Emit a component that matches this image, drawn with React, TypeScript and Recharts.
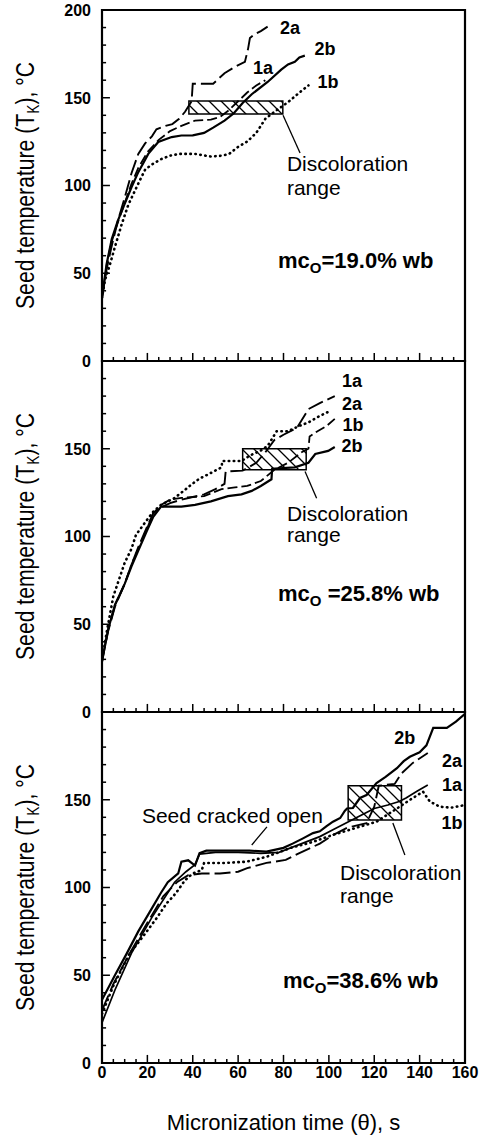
import React from "react";
import { LineChart, Line, XAxis, YAxis, ReferenceArea, ReferenceLine, ReferenceDot } from "recharts";

const FONT = '"Liberation Sans", Arial, Helvetica, sans-serif';

type Pt = [number, number];

const xTicks = [0, 5, 10, 15, 20, 25, 30, 35, 40, 45, 50, 55, 60, 65, 70, 75, 80, 85, 90, 95, 100, 105, 110, 115, 120, 125, 130, 135, 140, 145, 150, 155, 160];
const yTicks = [0, 10, 20, 30, 40, 50, 60, 70, 80, 90, 100, 110, 120, 130, 140, 150, 160, 170, 180, 190, 200];

// panel 1, mco = 19.0% wb  (time s, temperature C)
const p1_2a: Pt[] = [[0,36],[2,52],[4,64],[7,80],[10,93],[13,107],[16,118],[19,124],[22,128],[24,132],[28,134],[31,135],[34,138],[36.6,142],[39.5,148],[40,158],[49,158],[54,164],[58.6,167.6],[63,170.5],[64.4,178],[65.2,184],[67,186],[70,188],[73,190.5]];
const p1_2b: Pt[] = [[0,36],[2,55],[4.3,69.5],[7,80],[10,89.5],[13,99],[16,107.6],[20.4,118],[24.8,124.8],[30.7,127.6],[35,128.5],[40,128.6],[45,130],[49,133],[54,137],[58,141],[62,147],[66,152],[73,159],[79,166],[82,169],[85,170.5],[87,173],[89.4,174]];
const p1_1a: Pt[] = [[0,36],[2,54],[4,67],[7,79],[10,90],[13,101],[16,110],[20,119],[25,126],[30,131],[35,134],[41,137],[48,137.5],[52,139],[56,143],[60,148],[64,153],[68,157],[72,160]];
const p1_1b: Pt[] = [[0,36],[1.3,46],[3.5,55],[5.7,65],[8.7,78],[11.6,89],[14.5,97],[16.7,103],[19,109],[22,112],[26,115],[30,117],[34,118],[41,118],[48,116.5],[53,117],[56,118],[60,122],[64,125],[68,130],[72,138],[76,142],[82,147.5],[88,154],[91,157]];

// panel 2, mco = 25.8% wb
const p2_1a: Pt[] = [[0,29],[2.7,46],[5.7,60],[10,73],[13,84],[16,94],[19.7,105],[22.5,113],[25,116],[30,119],[35,121],[40,122.5],[45,124],[50,127],[54,130],[54.5,137],[62,137.5],[68,142],[72,148],[76,155],[80,158],[86,162],[91,172.6],[96,176],[102.6,180]];
const p2_2a: Pt[] = [[0,29],[2,45],[5,66],[10,85],[13,93],[15,101],[19,108],[22.5,114],[26,118],[32,122],[36,126],[39.5,129.7],[43,133],[46.8,135.4],[52.7,139.4],[53,143],[61.5,143],[65,146],[70,149],[73,151.6],[77,160],[82,160],[87,163],[91,165],[95,168],[99.7,171]];
const p2_1b: Pt[] = [[0,29],[2.7,47],[5.7,61],[10,73],[13,84],[16,93],[19.7,104],[22.5,113],[26,118],[30,121],[35,122],[39.5,122.4],[45,123],[52.7,127],[58.6,128],[64,128.8],[70,131.6],[76,138],[82,142],[88,148],[91,150],[91.5,157],[95,160],[99,163],[102.6,167]];
const p2_2b: Pt[] = [[0,29],[2.7,47],[5.7,61],[10,73],[13,83],[16,92],[19.7,103],[22.5,111],[26,117],[35,117],[41,118],[48,120],[55.5,123],[61.5,124],[66,126],[70,128.8],[74.7,132.6],[75,138.6],[85,139.4],[91,142],[94,147],[99.7,148.8],[102.6,151]];

// panel 3, mco = 38.6% wb
const p3_2b: Pt[] = [[0,36],[5.7,50],[11,62.6],[16,75],[21,86],[26,97],[29,103],[33.6,108],[35,114.7],[38,115.5],[41,112.5],[43,119.6],[46,121],[55,121],[65,121],[72.5,120.5],[80,122.6],[84,125],[88.6,128],[93,131],[96,132],[99,135],[101.8,137.5],[105,139.6],[107,143.6],[108,145],[110.6,145.3],[113.7,151],[116.6,152.7],[121,159.5],[125,163],[130,168],[133,172],[135.7,174.5],[140,177],[143,181],[146,191],[152,191],[156,194.5],[160,199]];
const p3_2a: Pt[] = [[0,30],[5,45],[12,62],[20,80],[27,95],[33,103],[38,107],[44,108],[52,108],[60,109],[64,111],[72.5,114],[81,115.7],[87,119.6],[96,125],[102,130],[108,134],[116.6,136.7],[120,146],[122,158],[129,159],[132,165],[137,171],[143.6,176.6]];
const p3_1a: Pt[] = [[0,23],[5.7,41.6],[13,62.6],[22,83],[32,103],[37,109],[41,113],[43,119],[50,120],[60,120],[70,119.5],[78,120],[84,123],[90,126],[96,129],[102,133],[108,137],[114,141],[120,145],[126,147],[131,149],[134,151],[139,155],[143.6,158.4]];
const p3_1b: Pt[] = [[0,28],[5,44],[12,62],[18,72],[24,82.4],[28.5,91],[31.4,95],[33.6,98.6],[36.5,104],[40,108],[44,110],[45,114],[54,114],[63.7,114.7],[72.5,117.5],[83,122.5],[93,126],[101.8,130],[112,134],[121,137.5],[130,145],[137,151],[141.5,154.6],[144.5,149],[149,146],[154,145.5],[160,147]];

// discoloration range boxes: [t1, t2, T1, T2]
const box1 = [38.3, 79.7, 140.7, 148.2];
const box2 = [62, 90, 138, 150];
const box3 = [108.5, 132, 138.5, 158];

const toRows = (pts: Pt[]) => pts.map(([t, T]) => ({ t, T }));

const SOLID = { dash: undefined, w: 2.2 };
const THIN = { dash: undefined, w: 1.7 };
const LONG = { dash: "16 5", w: 1.9 };
const MED = { dash: "10 4", w: 1.8 };
const DOT = { dash: "0.5 4.5", w: 2.6 };

// inward tick marks, lengths in axis units (~8px major, ~4px minor)
const tickMarks = [
  ...xTicks.map((v) => (
    <ReferenceLine key={`xt${v}`} segment={[{ x: v, y: 0 }, { x: v, y: v % 20 === 0 ? 4.6 : 2.3 }]}
      stroke="#000" strokeWidth={1.5} ifOverflow="visible" />
  )),
  ...yTicks.map((v) => (
    <ReferenceLine key={`yt${v}`} segment={[{ x: 0, y: v }, { x: v % 50 === 0 ? 3.5 : 1.8, y: v }]}
      stroke="#000" strokeWidth={1.5} ifOverflow="visible" />
  )),
];

function XTick(props: any) {
  const { x, y, payload, showLabel } = props;
  const v = payload.value;
  if (!showLabel || v % 20 !== 0) return <g />;
  return (
    <text x={x} y={y + 15} textAnchor="middle" fontSize={16} fontWeight="bold" fontFamily={FONT} fill="#000">{v}</text>
  );
}

function YTick(props: any) {
  const { x, y, payload, showTop } = props;
  const v = payload.value;
  if (v % 50 !== 0 || (!showTop && v === 200)) return <g />;
  return (
    <text x={x - 11} y={y} dy="0.36em" textAnchor="end" fontSize={16} fontWeight="bold" fontFamily={FONT} fill="#000">{v}</text>
  );
}

function YTitle(props: any) {
  const vb = props.viewBox;
  const cx = 33.5;
  const cy = vb.y + vb.height / 2;
  return (
    <text x={cx} y={cy} transform={`rotate(-90 ${cx} ${cy})`} textAnchor="middle" fontSize={26} fontFamily={FONT} fill="#000" textLength={247} lengthAdjust="spacingAndGlyphs">
      Seed temperature (T<tspan fontSize={17} dy={5}>K</tspan><tspan dy={-5}>), °C</tspan>
    </text>
  );
}

function XTitle(props: any) {
  const vb = props.viewBox;
  return (
    <text x={vb.x + vb.width / 2} y={vb.y + 67} textAnchor="middle" fontSize={22} fontFamily={FONT} fill="#000">
      Micronization time (θ), s
    </text>
  );
}

function note(key: string, t: number, T: number, body: React.ReactNode, anchor = "start", size = 21, weight = "normal") {
  return (
    <ReferenceDot key={key} x={t} y={T} r={0} ifOverflow="visible"
      shape={(p: any) => (
        <text x={p.cx} y={p.cy} dy="0.36em" textAnchor={anchor} fontSize={size} fontWeight={weight} fontFamily={FONT} fill="#000">{body}</text>
      )} />
  );
}

const tag = (key: string, t: number, T: number, s: string) => note(key, t, T, s, "middle", 18, "bold");

function mc(rest: string) {
  return (
    <>
      mc<tspan fontSize={15} dy={5}>O</tspan><tspan dy={-5}>{rest}</tspan>
    </>
  );
}

function Panel(props: any) {
  const { top, height, bottom, series, box, showX, showTop, id, children } = props;
  return (
    <div style={{ position: "absolute", left: 0, top }}>
      <LineChart width={482} height={height} margin={{ top: 10, right: 17, bottom, left: 42 }}>
        <defs>
          <pattern id={id} patternUnits="userSpaceOnUse" width={12} height={12}>
            <path d="M0,0 L12,12 M-3,9 L3,15 M9,-3 L15,3" stroke="#000" strokeWidth={1.3} />
          </pattern>
        </defs>
        <XAxis type="number" dataKey="t" domain={[0, 160]} ticks={xTicks} interval={0} allowDataOverflow
          axisLine={false} tickLine={false} tickSize={0} tickMargin={0} height={showX ? 74 : 1}
          tick={(p: any) => <XTick {...p} showLabel={showX} />}
          label={showX ? XTitle : undefined} />
        <YAxis type="number" domain={[0, 200]} ticks={yTicks} interval={0} allowDataOverflow width={60}
          axisLine={false} tickLine={false} tickSize={0} tickMargin={0}
          tick={(p: any) => <YTick {...p} showTop={showTop} />}
          label={YTitle} />
        <ReferenceArea x1={box[0]} x2={box[1]} y1={box[2]} y2={box[3]} fill={`url(#${id})`} fillOpacity={1} stroke="#000" strokeWidth={1.5} ifOverflow="visible" />
        {series.map((s: any) => (
          <Line key={s.name} name={s.name} data={toRows(s.pts)} dataKey="T" type="linear" stroke="#000"
            strokeWidth={s.style.w} strokeDasharray={s.style.dash} strokeLinecap={s.style === DOT ? "round" : "butt"}
            dot={false} activeDot={false} isAnimationActive={false} />
        ))}
        {tickMarks}
        <ReferenceArea x1={0} x2={160} y1={0} y2={200} fill="none" stroke="#000" strokeWidth={2.2} ifOverflow="visible" />
        {children}
      </LineChart>
    </div>
  );
}

export default function App() {
  return (
    <div style={{ position: "absolute", left: 0, top: 0, width: 482, height: 1137, background: "#fff" }}>
      <Panel id="hatch1" top={0} height={371} bottom={9} showTop box={box1}
        series={[
          { name: "2a", pts: p1_2a, style: LONG },
          { name: "2b", pts: p1_2b, style: SOLID },
          { name: "1a", pts: p1_1a, style: MED },
          { name: "1b", pts: p1_1b, style: DOT },
        ]}>
        {tag("l2a", 82.9, 190.3, "2a")}
        {tag("l2b", 98.3, 178.3, "2b")}
        {tag("l1a", 71, 167.5, "1a")}
        {tag("l1b", 99.6, 159, "1b")}
        <ReferenceLine segment={[{ x: 79.8, y: 140 }, { x: 87.3, y: 118.5 }]} stroke="#000" strokeWidth={1.3} ifOverflow="visible" />
        {note("d1", 81.5, 112.8, "Discoloration")}
        {note("r1", 81.5, 99.1, "range")}
        {note("m1", 77.6, 57.5, mc("=19.0% wb"), "start", 22, "bold")}
      </Panel>
      <Panel id="hatch2" top={351} height={371} bottom={9} box={box2}
        series={[
          { name: "1a", pts: p2_1a, style: LONG },
          { name: "2a", pts: p2_2a, style: DOT },
          { name: "1b", pts: p2_1b, style: MED },
          { name: "2b", pts: p2_2b, style: SOLID },
        ]}>
        {tag("l1a", 110.2, 189, "1a")}
        {tag("l2a", 110.2, 175.8, "2a")}
        {tag("l1b", 110.6, 164, "1b")}
        {tag("l2b", 110.2, 151.6, "2b")}
        <ReferenceLine segment={[{ x: 89.5, y: 137 }, { x: 94.6, y: 121.8 }]} stroke="#000" strokeWidth={1.3} ifOverflow="visible" />
        {note("d2", 81.5, 113.4, "Discoloration")}
        {note("r2", 81.5, 100.9, "range")}
        {note("m2", 77.6, 67.8, mc(" =25.8% wb"), "start", 22, "bold")}
      </Panel>
      <Panel id="hatch3" top={702} height={435} bottom={0} showX box={box3}
        series={[
          { name: "2b", pts: p3_2b, style: SOLID },
          { name: "2a", pts: p3_2a, style: LONG },
          { name: "1a", pts: p3_1a, style: THIN },
          { name: "1b", pts: p3_1b, style: DOT },
        ]}>
        {tag("l2b", 133.5, 185.2, "2b")}
        {tag("l2a", 154.3, 172.6, "2a")}
        {tag("l1a", 154.3, 158.4, "1a")}
        {tag("l1b", 154.3, 137.3, "1b")}
        {note("c3", 17.6, 141.3, "Seed cracked open")}
        <ReferenceLine segment={[{ x: 72.7, y: 134.5 }, { x: 66, y: 124.2 }]} stroke="#000" strokeWidth={1.3} ifOverflow="visible" />
        <ReferenceLine segment={[{ x: 128.2, y: 136.8 }, { x: 133.5, y: 118.5 }]} stroke="#000" strokeWidth={1.3} ifOverflow="visible" />
        {note("d3", 104.9, 108.3, "Discoloration")}
        {note("r3", 104.9, 95.7, "range")}
        {note("m3", 79.8, 47.3, mc("=38.6% wb"), "start", 22, "bold")}
      </Panel>
    </div>
  );
}
